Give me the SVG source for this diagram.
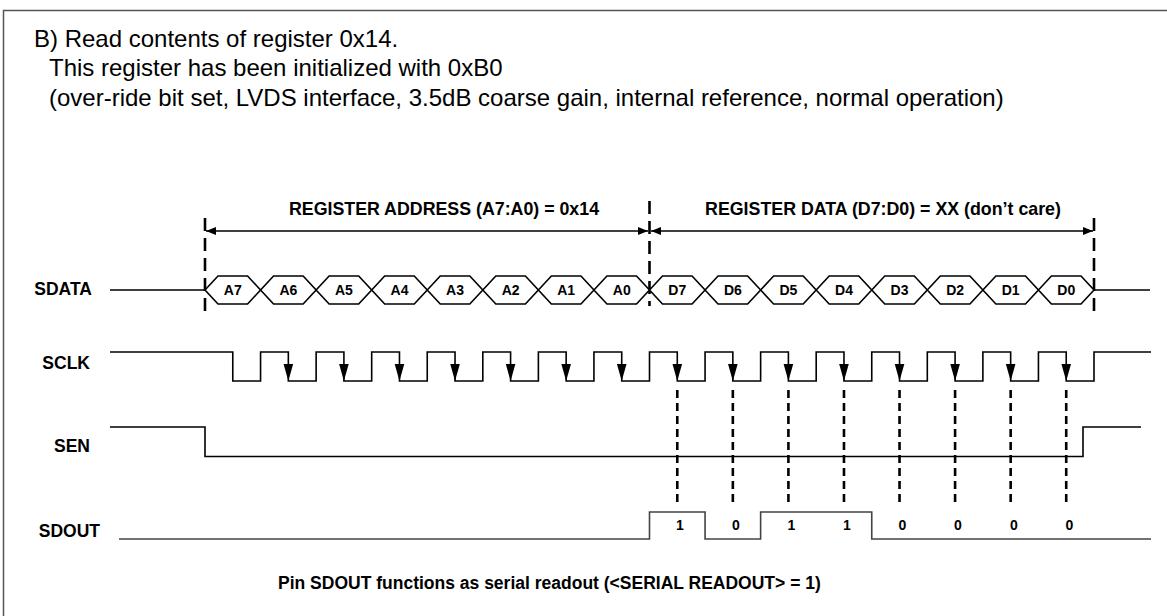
<svg xmlns="http://www.w3.org/2000/svg" xmlns:xlink="http://www.w3.org/1999/xlink" width="1167" height="616" viewBox="0 0 1167 616">
<style>
.title{font-family:"Liberation Sans",Arial,sans-serif;font-size:24px;fill:#000}
.lbl{font-family:"Liberation Sans",Arial,sans-serif;font-size:17.5px;font-weight:bold;fill:#000}
.dl{font-family:"Liberation Sans",Arial,sans-serif;font-size:17.8px;font-weight:bold;fill:#000;text-anchor:middle}
.bit{font-family:"Liberation Sans",Arial,sans-serif;font-size:14px;font-weight:bold;fill:#000;text-anchor:middle}
.sig{fill:none;stroke:#000;stroke-width:1.6}
.hex{fill:#fff;stroke:#000;stroke-width:1.6}
.dimdash{fill:none;stroke:#000;stroke-width:2.6;stroke-dasharray:13 7}
.mark{fill:none;stroke:#000;stroke-width:2.6;stroke-dasharray:8 5}
.dim{fill:none;stroke:#000;stroke-width:1.4}
</style>
<defs>
<marker id="ah" viewBox="0 0 10 8" refX="10" refY="4" markerWidth="10" markerHeight="8" markerUnits="userSpaceOnUse" orient="auto-start-reverse">
<path d="M0,0 L10,4 L0,8 Z" fill="#000"/>
</marker>
<path id="ca" d="M-4.8,-17 L4.8,-17 L0,0 Z" fill="#000"/>
</defs>

<g id="frame">
<path d="M3.5,620 V10.5 H1170" fill="none" stroke="#555" stroke-width="1.5"/>
</g>

<g id="title">
<text class="title" x="34" y="46.5">B) Read contents of register 0x14.</text>
<text class="title" x="49" y="76">This register has been initialized with 0xB0</text>
<text class="title" x="49" y="106">(over-ride bit set, LVDS interface, 3.5dB coarse gain, internal reference, normal operation)</text>
</g>

<g id="connectors">
<line class="dimdash" x1="205" y1="218" x2="205" y2="311"/>
<line class="dimdash" x1="649.5" y1="201" x2="649.5" y2="306"/>
<line class="dimdash" x1="1094" y1="218" x2="1094" y2="316"/>
<line class="dim" x1="206" y1="231" x2="648" y2="231" marker-start="url(#ah)" marker-end="url(#ah)"/>
<line class="dim" x1="651" y1="231" x2="1093" y2="231" marker-start="url(#ah)" marker-end="url(#ah)"/>
<line class="mark" x1="677.28" y1="390" x2="677.28" y2="507"/>
<line class="mark" x1="732.84" y1="390" x2="732.84" y2="507"/>
<line class="mark" x1="788.41" y1="390" x2="788.41" y2="507"/>
<line class="mark" x1="843.97" y1="390" x2="843.97" y2="507"/>
<line class="mark" x1="899.53" y1="390" x2="899.53" y2="507"/>
<line class="mark" x1="955.09" y1="390" x2="955.09" y2="507"/>
<line class="mark" x1="1010.66" y1="390" x2="1010.66" y2="507"/>
<line class="mark" x1="1066.22" y1="390" x2="1066.22" y2="507"/>
</g>

<g id="dim-labels">
<text class="dl" x="444" y="215">REGISTER ADDRESS (A7:A0) = 0x14</text>
<text class="dl" x="883" y="215">REGISTER DATA (D7:D0) = XX (don’t care)</text>
</g>

<g id="sdata">
<text class="lbl" x="92" y="295" text-anchor="end">SDATA</text>
<path class="sig" d="M110,290 H205 M1094,290 H1150"/>
<polygon class="hex" points="205,290 218,276 247.56,276 260.56,290 247.56,304 218,304"/>
<polygon class="hex" points="260.56,290 273.56,276 303.13,276 316.13,290 303.13,304 273.56,304"/>
<polygon class="hex" points="316.13,290 329.13,276 358.69,276 371.69,290 358.69,304 329.13,304"/>
<polygon class="hex" points="371.69,290 384.69,276 414.25,276 427.25,290 414.25,304 384.69,304"/>
<polygon class="hex" points="427.25,290 440.25,276 469.81,276 482.81,290 469.81,304 440.25,304"/>
<polygon class="hex" points="482.81,290 495.81,276 525.38,276 538.38,290 525.38,304 495.81,304"/>
<polygon class="hex" points="538.38,290 551.38,276 580.94,276 593.94,290 580.94,304 551.38,304"/>
<polygon class="hex" points="593.94,290 606.94,276 636.5,276 649.5,290 636.5,304 606.94,304"/>
<polygon class="hex" points="649.5,290 662.5,276 692.06,276 705.06,290 692.06,304 662.5,304"/>
<polygon class="hex" points="705.06,290 718.06,276 747.63,276 760.63,290 747.63,304 718.06,304"/>
<polygon class="hex" points="760.63,290 773.63,276 803.19,276 816.19,290 803.19,304 773.63,304"/>
<polygon class="hex" points="816.19,290 829.19,276 858.75,276 871.75,290 858.75,304 829.19,304"/>
<polygon class="hex" points="871.75,290 884.75,276 914.31,276 927.31,290 914.31,304 884.75,304"/>
<polygon class="hex" points="927.31,290 940.31,276 969.88,276 982.88,290 969.88,304 940.31,304"/>
<polygon class="hex" points="982.88,290 995.88,276 1025.44,276 1038.44,290 1025.44,304 995.88,304"/>
<polygon class="hex" points="1038.44,290 1051.44,276 1081,276 1094,290 1081,304 1051.44,304"/>
<text class="bit" x="232.78" y="295">A7</text>
<text class="bit" x="288.34" y="295">A6</text>
<text class="bit" x="343.91" y="295">A5</text>
<text class="bit" x="399.47" y="295">A4</text>
<text class="bit" x="455.03" y="295">A3</text>
<text class="bit" x="510.59" y="295">A2</text>
<text class="bit" x="566.16" y="295">A1</text>
<text class="bit" x="621.72" y="295">A0</text>
<text class="bit" x="677.28" y="295">D7</text>
<text class="bit" x="732.84" y="295">D6</text>
<text class="bit" x="788.41" y="295">D5</text>
<text class="bit" x="843.97" y="295">D4</text>
<text class="bit" x="899.53" y="295">D3</text>
<text class="bit" x="955.09" y="295">D2</text>
<text class="bit" x="1010.66" y="295">D1</text>
<text class="bit" x="1066.22" y="295">D0</text>
</g>

<g id="sclk">
<text class="lbl" x="90" y="369" text-anchor="end">SCLK</text>
<path class="sig" d="M110,352 H232.78 V381 H260.56 V352 H288.34 V381 H316.13 V352 H343.91 V381 H371.69 V352 H399.47 V381 H427.25 V352 H455.03 V381 H482.81 V352 H510.59 V381 H538.38 V352 H566.16 V381 H593.94 V352 H621.72 V381 H649.5 V352 H677.28 V381 H705.06 V352 H732.84 V381 H760.63 V352 H788.41 V381 H816.19 V352 H843.97 V381 H871.75 V352 H899.53 V381 H927.31 V352 H955.09 V381 H982.88 V352 H1010.66 V381 H1038.44 V352 H1066.22 V381 H1094 V352 H1151"/>
<use xlink:href="#ca" x="288.34" y="381"/>
<use xlink:href="#ca" x="343.91" y="381"/>
<use xlink:href="#ca" x="399.47" y="381"/>
<use xlink:href="#ca" x="455.03" y="381"/>
<use xlink:href="#ca" x="510.59" y="381"/>
<use xlink:href="#ca" x="566.16" y="381"/>
<use xlink:href="#ca" x="621.72" y="381"/>
<use xlink:href="#ca" x="677.28" y="381"/>
<use xlink:href="#ca" x="732.84" y="381"/>
<use xlink:href="#ca" x="788.41" y="381"/>
<use xlink:href="#ca" x="843.97" y="381"/>
<use xlink:href="#ca" x="899.53" y="381"/>
<use xlink:href="#ca" x="955.09" y="381"/>
<use xlink:href="#ca" x="1010.66" y="381"/>
<use xlink:href="#ca" x="1066.22" y="381"/>
</g>

<g id="sen">
<text class="lbl" x="90" y="452" text-anchor="end">SEN</text>
<path class="sig" d="M110,427 H205 V456.5 H1083 V427 H1141"/>
</g>

<g id="sdout">
<text class="lbl" x="100" y="536.5" text-anchor="end">SDOUT</text>
<path class="sig" style="stroke:#444" d="M119,539 H649.5 V512 H705.06 V539 H760.63 V512 H871.75 V539 H1151"/>
<text class="bit" x="680" y="530">1</text>
<text class="bit" x="736" y="530">0</text>
<text class="bit" x="791.5" y="530">1</text>
<text class="bit" x="847" y="530">1</text>
<text class="bit" x="902.5" y="530">0</text>
<text class="bit" x="958" y="530">0</text>
<text class="bit" x="1014" y="530">0</text>
<text class="bit" x="1069.5" y="530">0</text>
</g>

<g id="note">
<text class="lbl" x="278" y="589">Pin SDOUT functions as serial readout (&lt;SERIAL READOUT&gt; = 1)</text>
</g>
</svg>
